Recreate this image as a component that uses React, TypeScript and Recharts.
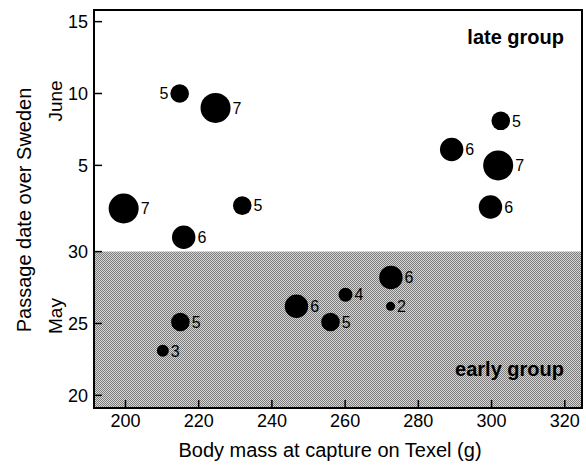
import React from 'react';
import { ScatterChart, Scatter, XAxis, YAxis, ReferenceArea } from 'recharts';

// body mass (g) at capture, passage day (May = day of month, June = 31 + day), birds per dot
const bodyMass = [214.8, 224.6, 199.5, 231.9, 215.9, 289.1, 302.5, 301.8, 299.7, 272.5, 260.1, 272.4, 246.7, 256.0, 215.0, 210.2];
const passageDay = [41, 40, 33, 33.2, 31, 37.1, 39.1, 36, 33.1, 28.2, 27, 26.2, 26.2, 25.1, 25.1, 23.1];
const birdCount = [5, 7, 7, 5, 6, 6, 5, 7, 6, 6, 4, 2, 6, 5, 5, 3];

const xTicks = [200, 220, 240, 260, 280, 300, 320];
const yTicks = [20, 25, 30, 36, 41, 46];
const yTickLabels = ['20', '25', '30', '5', '10', '15'];

const groupSplit = 30;

const xDomain: [number, number] = [191.4, 324.7];
const yDomain: [number, number] = [19.12, 46.81];

const radiusByCount: Record<number, number> = { 2: 4.5, 3: 6, 4: 7, 5: 9.3, 6: 11.7, 7: 15 };
const labelOnLeft = new Set([0]);

const data = bodyMass.map((mass, i) => ({ id: i, mass, day: passageDay[i], n: birdCount[i] }));

const font = '"Liberation Sans", Arial, Helvetica, sans-serif';

function Dot(props: any) {
  const { cx, cy, payload } = props;
  const r = radiusByCount[payload.n];
  const left = labelOnLeft.has(payload.id);
  return (
    <g>
      <circle cx={cx} cy={cy} r={r} fill="#000" />
      <text
        x={left ? cx - r - 2 : cx + r + 2}
        y={cy}
        dy="0.36em"
        textAnchor={left ? 'end' : 'start'}
        fontSize={16}
        fontFamily={font}
        fill="#000"
      >
        {payload.n}
      </text>
    </g>
  );
}

function EarlyLabel(props: any) {
  const { viewBox } = props;
  return (
    <text
      x={viewBox.x + viewBox.width - 18}
      y={viewBox.y + viewBox.height - 32}
      textAnchor="end"
      fontSize={20}
      fontWeight="bold"
      fontFamily={font}
      fill="#000"
    >
      early group
    </text>
  );
}

export default function App() {
  return (
    <div style={{ position: 'absolute', left: 0, top: 0, width: 586, height: 465, background: '#fff' }}>
      <ScatterChart width={586} height={465} margin={{ top: 10, right: 4, bottom: 0, left: 0 }}>
        <defs>
          <pattern id="dither" width="2" height="2" patternUnits="userSpaceOnUse">
            <rect width="2" height="2" fill="#d6d6d6" />
            <rect width="1" height="1" fill="#7c7c7c" />
            <rect x="1" y="1" width="1" height="1" fill="#7c7c7c" />
          </pattern>
        </defs>
        <XAxis
          type="number"
          dataKey="mass"
          domain={xDomain}
          allowDataOverflow
          ticks={xTicks}
          height={57}
          tickSize={-8}
          tickMargin={14}
          axisLine={{ stroke: '#000', strokeWidth: 2 }}
          tickLine={{ stroke: '#000', strokeWidth: 1.5 }}
          tick={{ fill: '#000', fontSize: 18, fontFamily: font }}
        />
        <YAxis
          type="number"
          dataKey="day"
          domain={yDomain}
          allowDataOverflow
          ticks={yTicks}
          width={94}
          tickSize={-8}
          tickMargin={14}
          tickFormatter={(v: number) => yTickLabels[yTicks.indexOf(v)]}
          axisLine={{ stroke: '#000', strokeWidth: 2 }}
          tickLine={{ stroke: '#000', strokeWidth: 1.5 }}
          tick={{ fill: '#000', fontSize: 18, fontFamily: font }}
        />
        <ReferenceArea
          x1={xDomain[0]}
          x2={xDomain[1]}
          y1={yDomain[0]}
          y2={groupSplit}
          fill="url(#dither)"
          fillOpacity={1}
          stroke="none"
          label={<EarlyLabel />}
        />
        <ReferenceArea
          x1={xDomain[0]}
          x2={xDomain[1]}
          y1={yDomain[0]}
          y2={yDomain[1]}
          fill="none"
          stroke="#000"
          strokeWidth={2}
        />
        <Scatter data={data} shape={Dot} isAnimationActive={false} />
        <text x={564} y={44} textAnchor="end" fontSize={20} fontWeight="bold" fontFamily={font} fill="#000">
          late group
        </text>
        <text x={330} y={457} textAnchor="middle" fontSize={20} fontFamily={font} fill="#000">
          Body mass at capture on Texel (g)
        </text>
        <text
          x={31}
          y={210}
          transform="rotate(-90 31 210)"
          textAnchor="middle"
          fontSize={20}
          fontFamily={font}
          fill="#000"
        >
          Passage date over Sweden
        </text>
        <text x={62} y={101} transform="rotate(-90 62 101)" textAnchor="middle" fontSize={19} fontFamily={font} fill="#000">
          June
        </text>
        <text x={62} y={316} transform="rotate(-90 62 316)" textAnchor="middle" fontSize={19} fontFamily={font} fill="#000">
          May
        </text>
      </ScatterChart>
    </div>
  );
}
